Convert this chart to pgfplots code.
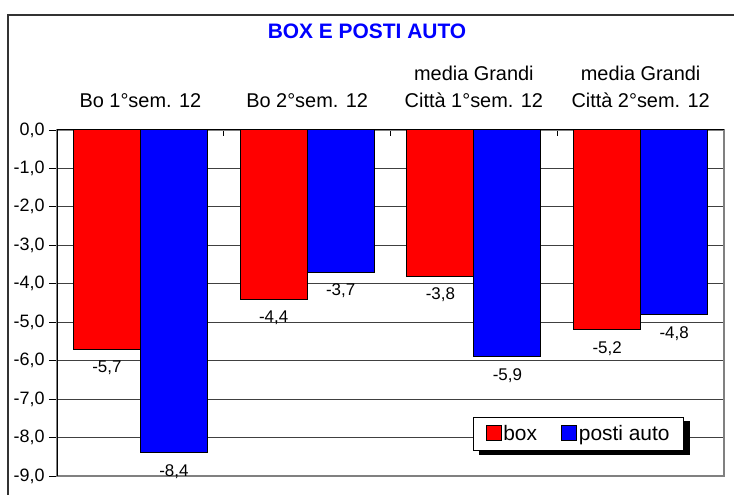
\documentclass[border=0pt]{standalone}
\usepackage{fontspec}
\setmainfont{Liberation Sans}
\usepackage{pgfplots}
\pgfplotsset{compat=1.18}
\definecolor{xred}{RGB}{255,0,0}
\definecolor{xblue}{RGB}{0,0,255}
\pgfplotsset{mylegend/.style={legend image code/.code={\draw[##1,draw=black,line width=0.8bp] (0bp,-7bp) rectangle (15bp,8bp);}}}
\begin{document}
\begin{tikzpicture}[x=1bp,y=1bp]
\path[use as bounding box] (0,0) rectangle (734,495);
\begin{scope}
\clip (0,0) rectangle (734,495);
\draw[black!80, line width=1.2bp] (8,-10) rectangle (745,480);
\end{scope}
\node[font=\fontsize{21}{25}\selectfont\bfseries, text=xblue] at (367,464) {BOX E POSTI AUTO};
\begin{axis}[
  at={(57bp,19bp)}, anchor=south west,
  scale only axis, width=667bp, height=346bp,
  ymin=-9, ymax=0, xmin=-0.5, xmax=3.5,
  ybar=0pt, bar width=67bp,
  ytick={-9,-8,...,0},
  ymajorgrids, major grid style={black!75, line width=0.8bp},
  xtick={0,1,2,3},
  xticklabels={{Bo 1°sem. 12},{Bo 2°sem. 12},{media Grandi\\Città 1°sem. 12},{media Grandi\\Città 2°sem. 12}},
  xtick pos=right, xticklabel pos=right, ytick pos=left,
  minor xtick={0.5,1.5,2.5},
  tick align=outside,
  major tick length=8bp, minor tick length=6bp,
  major x tick style={draw=none},
  minor x tick style={black, line width=0.8bp, yshift=-6bp},
  major y tick style={black, line width=0.8bp},
  xticklabel style={font=\fontsize{20}{27}\selectfont, align=center, anchor=south, yshift=11bp},
  yticklabel style={font=\fontsize{18}{21}\selectfont, xshift=-1bp, /pgf/number format/.cd, fixed, fixed zerofill, precision=1, use comma, assume math mode=true},
  axis line style={black!50, line width=1.2bp},
  nodes near coords={\pgfmathprintnumber[fixed,fixed zerofill,precision=1,use comma,assume math mode=true]{\pgfplotspointmeta}},
  every node near coord/.append style={font=\fontsize{17}{20}\selectfont, black, yshift=-8bp},
  legend style={name=leg, at={(0.94,0.072)}, anchor=south east, draw=black, fill=white, line width=0.8bp,
    font=\fontsize{21}{25}\selectfont, legend columns=2,
    /tikz/every even column/.append style={column sep=22bp},
    inner xsep=12bp, inner ysep=6.5bp},
]
\addplot[fill=xred, draw=black, line width=1bp, mylegend] coordinates {(0,-5.7) (1,-4.4) (2,-3.8) (3,-5.2)};
\addplot[fill=xblue, draw=black, line width=1bp, mylegend] coordinates {(0,-8.4) (1,-3.7) (2,-5.9) (3,-4.8)};
\legend{box, posti auto}
\draw[black, line width=1bp] (rel axis cs:0,0) -- (rel axis cs:0,1) -- (rel axis cs:1,1);
\end{axis}
\fill[black] ([shift={(0.4bp,-4bp)}]leg.north east) rectangle ([shift={(6bp,-4bp)}]leg.south east);
\fill[black] ([shift={(6bp,-0.4bp)}]leg.south west) rectangle ([shift={(6bp,-4bp)}]leg.south east);
\end{tikzpicture}
\end{document}
